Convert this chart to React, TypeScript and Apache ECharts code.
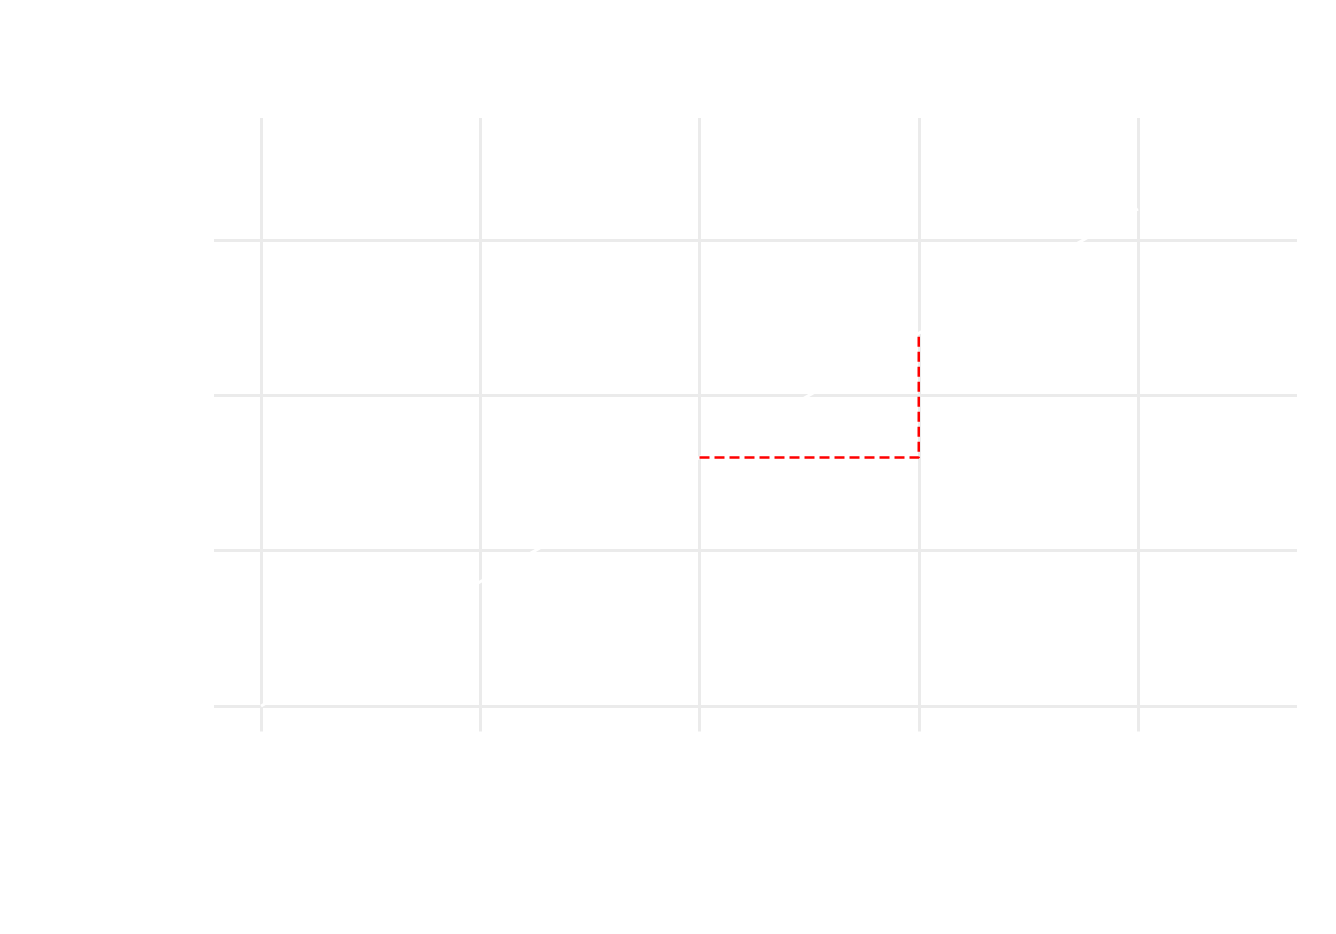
import React, { useEffect, useRef } from "react";
import * as echarts from "echarts";

// white line y = 0.8x
const xValues = [0, 1, 2, 3, 4];
const yValues = [0, 0.8, 1.6, 2.4, 3.2];

// rise-over-run guide (red dashed)
const runRiseX = [2, 3, 3];
const runRiseY = [1.6, 1.6, 2.4];

// gridline positions
const xTicks = [0, 1, 2, 3, 4];
const yTicks = [0, 1, 2, 3];

const GRID_COLOR = "#ebebeb";

const App: React.FC = () => {
  const chartRef = useRef<HTMLDivElement>(null);

  useEffect(() => {
    document.body.style.margin = "0";
    if (!chartRef.current) return;
    const chart = echarts.init(chartRef.current, undefined, { renderer: "svg" });

    const option: echarts.EChartsOption = {
      animation: false,
      backgroundColor: "#ffffff",
      grid: { left: 214, right: 39, top: 118, bottom: 202.5 },
      xAxis: {
        type: "value",
        min: -0.2144,
        max: 4.7252,
        axisLine: { show: false },
        axisTick: { show: false },
        axisLabel: { show: false },
        splitLine: { show: false },
      },
      yAxis: {
        type: "value",
        min: -0.164,
        max: 3.7854,
        axisLine: { show: false },
        axisTick: { show: false },
        axisLabel: { show: false },
        splitLine: { show: false },
      },
      series: [
        {
          // carrier for the panel gridlines
          type: "line",
          data: [],
          z: 1,
          silent: true,
          markLine: {
            z: 1,
            silent: true,
            symbol: "none",
            label: { show: false },
            lineStyle: { color: GRID_COLOR, width: 3, type: "solid" },
            emphasis: { disabled: true },
            data: [
              ...xTicks.map(v => ({ xAxis: v })),
              ...yTicks.map(v => ({ yAxis: v })),
            ],
          },
        },
        {
          type: "line",
          data: xValues.map((x, i) => [x, yValues[i]]),
          z: 3,
          showSymbol: false,
          lineStyle: { color: "#ffffff", width: 3 },
        },
        {
          type: "line",
          data: runRiseX.map((x, i) => [x, runRiseY[i]]),
          z: 4,
          showSymbol: false,
          lineStyle: { color: "#ff0000", width: 2.5, type: [10, 5] },
        },
      ],
    };

    chart.setOption(option);

    const handleResize = () => chart.resize();
    window.addEventListener("resize", handleResize);
    return () => {
      window.removeEventListener("resize", handleResize);
      chart.dispose();
    };
  }, []);

  return <div ref={chartRef} style={{ width: 1336, height: 934 }} />;
};

export default App;
